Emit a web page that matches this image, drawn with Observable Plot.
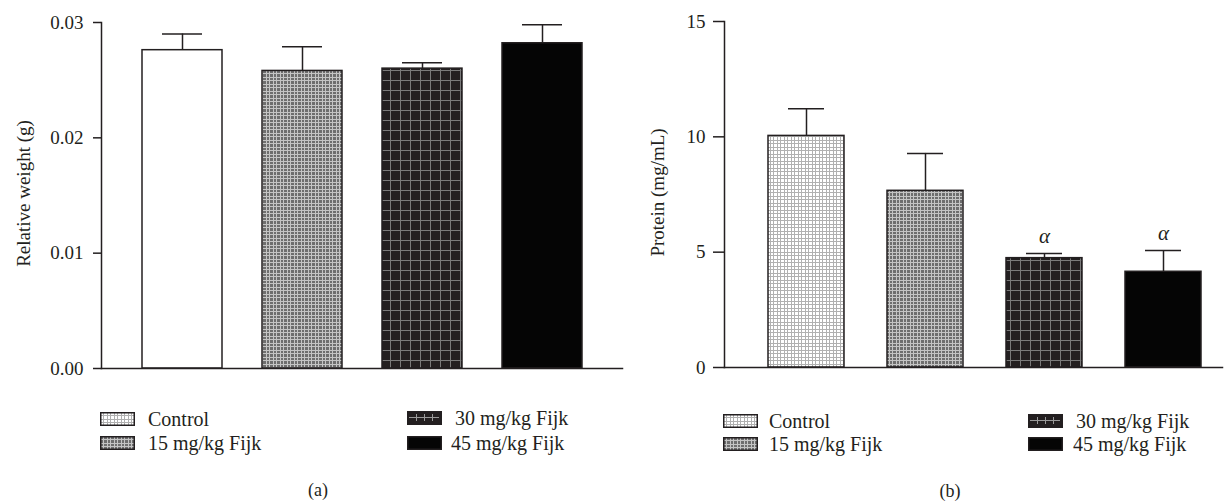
<!DOCTYPE html>
<html>
<head>
<meta charset="utf-8">
<script src="https://cdn.jsdelivr.net/npm/d3@7"></script>
<script src="https://cdn.jsdelivr.net/npm/@observablehq/plot@0.6"></script>
<style>
  html, body { margin: 0; padding: 0; background: #fff; }
  #root { position: relative; width: 1232px; height: 501px; overflow: hidden; background: #fff;
          font-family: "Liberation Serif", "DejaVu Serif", serif; color: #231f20; }
  .abs { position: absolute; white-space: nowrap; }
  .lg { font-size: 20px; line-height: 22px; }
  .cap { font-size: 18px; line-height: 20px; }
  svg text { font-family: "Liberation Serif", serif; }
</style>
</head>
<body>
<div id="root"></div>
<script>
// ---- data ----
const groups = ["Control", "15 mg/kg Fijk", "30 mg/kg Fijk", "45 mg/kg Fijk"];
const weightMean = [0.0276, 0.0258, 0.0260, 0.0282];
const weightSD = [0.0014, 0.0021, 0.0005, 0.0016];
const proteinMean = [10.04, 7.66, 4.74, 4.15];
const proteinSD = [1.18, 1.62, 0.20, 0.92];
const proteinSig = ["", "", "α", "α"];
const weightTicks = [0, 0.01, 0.02, 0.03];
const proteinTicks = [0, 5, 10, 15];

const INK = "#231f20";

function patternDefs(p) {
  return `
  <pattern id="${p}-ctrl" width="7" height="7" patternUnits="userSpaceOnUse">
    <rect width="7" height="7" fill="#fff"/>
    <path d="M0.5 0V7M3.5 0V7M0 0.5H7M0 3.5H7" stroke="#b0b0b0" stroke-width="1"/>
  </pattern>
  <pattern id="${p}-p15" width="7" height="7" patternUnits="userSpaceOnUse">
    <rect width="7" height="7" fill="#6e6e6e"/>
    <path d="M0.5 0V7M3.5 0V7M0 0.5H7M0 3.5H7" stroke="#c4c4c4" stroke-width="1"/>
  </pattern>
  <pattern id="${p}-p30" width="10" height="10" patternUnits="userSpaceOnUse">
    <rect width="10" height="10" fill="#231f20"/>
    <path d="M0.5 0V10M0 0.5H10" stroke="#7a7a7a" stroke-width="1"/>
  </pattern>
  <pattern id="${p}-sw30" width="34" height="13" patternUnits="userSpaceOnUse">
    <rect width="34" height="13" fill="#231f20"/>
    <path d="M2 6.5H32M9.5 3V10M17.5 3V10M25.5 3V10" stroke="#9a9a9a" stroke-width="1"/>
  </pattern>`;
}

function defsMark(p) {
  return () => {
    const d = document.createElementNS("http://www.w3.org/2000/svg", "defs");
    d.innerHTML = patternDefs(p);
    return d;
  };
}

function panel(o) {
  const data = groups.map((g, i) => ({group: g, mean: o.mean[i], top: o.mean[i] + o.sd[i], sig: o.sig ? o.sig[i] : ""}));
  return Plot.plot({
    width: o.width,
    height: 380,
    marginLeft: o.ml, marginRight: o.mr, marginTop: o.mt, marginBottom: o.mb,
    style: {fontFamily: "'Liberation Serif', serif", fontSize: "19px", color: INK, background: "transparent", overflow: "visible"},
    x: {domain: groups, paddingInner: o.padIn, paddingOuter: o.padOut, align: o.align, axis: null},
    y: {domain: [0, o.ticks[o.ticks.length - 1]], axis: null},
    color: {type: "identity"},
    marks: [
      defsMark(o.prefix),
      Plot.ruleX(data, {x: "group", y1: "mean", y2: "top", stroke: INK, strokeWidth: 1.5}),
      Plot.tickY(data, {x: "group", y: "top", insetLeft: 20, insetRight: 20, stroke: INK, strokeWidth: 1.5}),
      Plot.barY(data, {x: "group", y: "mean", fill: d => o.fills[d.group], stroke: INK, strokeWidth: 1.5}),
      Plot.frame({anchor: "left", stroke: INK, strokeWidth: 1.5}),
      Plot.frame({anchor: "bottom", stroke: INK, strokeWidth: 1.5}),
      Plot.axisY({ticks: o.ticks, tickFormat: o.fmt, tickSize: o.tickSize, tickPadding: o.tickPadding,
                  label: null, stroke: INK, strokeWidth: 1.5, fontSize: 19, fill: INK}),
      Plot.text([o.label], {frameAnchor: "left", textAnchor: "middle", lineAnchor: "middle", rotate: -90, dx: o.labelDx, dy: -2, fontSize: 19, fill: INK}),
      Plot.text(data.filter(d => d.sig), {x: "group", y: "top", text: "sig", dy: -17, fontStyle: "italic", fontSize: 21, fill: INK})
    ]
  });
}

const root = document.getElementById("root");

const chartA = panel({
  prefix: "a", mean: weightMean, sd: weightSD, ticks: weightTicks, fmt: ".2f",
  label: "Relative weight (g)", width: 630, ml: 101, mr: 8, mt: 22, mb: 12,
  padIn: 1/3, padOut: 0.3375, align: 0.5, tickSize: 8, tickPadding: 10, labelDx: -78,
  fills: {"Control": "#ffffff", "15 mg/kg Fijk": "url(#a-p15)", "30 mg/kg Fijk": "url(#a-p30)", "45 mg/kg Fijk": "#050505"}
});
chartA.style.position = "absolute"; chartA.style.left = "0px"; chartA.style.top = "0px";
root.appendChild(chartA);

const chartB = panel({
  prefix: "b", mean: proteinMean, sd: proteinSD, sig: proteinSig, ticks: proteinTicks, fmt: d => String(d),
  label: "Protein (mg/mL)", width: 602, ml: 94, mr: 10, mt: 21, mb: 13,
  padIn: 0.36, padOut: 0.26, align: 0.68, tickSize: 11, tickPadding: 8, labelDx: -67,
  fills: {"Control": "url(#b-ctrl)", "15 mg/kg Fijk": "url(#b-p15)", "30 mg/kg Fijk": "url(#b-p30)", "45 mg/kg Fijk": "#050505"}
});
chartB.style.position = "absolute"; chartB.style.left = "630px"; chartB.style.top = "0px";
root.appendChild(chartB);

// ---- legends ----
const swatchFill = {"Control": "url(#sw-ctrl)", "15 mg/kg Fijk": "url(#sw-p15)", "30 mg/kg Fijk": "url(#sw-sw30)", "45 mg/kg Fijk": "#050505"};
const defsSvg = document.createElementNS("http://www.w3.org/2000/svg", "svg");
defsSvg.setAttribute("width", 0); defsSvg.setAttribute("height", 0);
defsSvg.style.position = "absolute";
defsSvg.innerHTML = `<defs>${patternDefs("sw")}</defs>`;
root.appendChild(defsSvg);

function swatch(group, x, cy) {
  const s = document.createElementNS("http://www.w3.org/2000/svg", "svg");
  s.setAttribute("width", 35); s.setAttribute("height", 14);
  s.style.position = "absolute"; s.style.left = x + "px"; s.style.top = (cy - 7) + "px";
  s.innerHTML = `<rect x="0.75" y="0.75" width="33.5" height="12.5" fill="${swatchFill[group]}" stroke="${INK}" stroke-width="1.5"/>`;
  root.appendChild(s);
}
function label(text, x, cy, cls) {
  const d = document.createElement("div");
  d.className = "abs " + cls;
  d.textContent = text;
  d.style.left = x + "px";
  d.style.top = (cy - (cls === "lg" ? 11 : 10)) + "px";
  root.appendChild(d);
  return d;
}
function legend(layout) {
  layout.forEach(([gi, sx, tx, cy]) => {
    swatch(groups[gi], sx, cy);
    label(groups[gi], tx, cy, "lg");
  });
}
legend([[0, 100, 148, 419], [1, 100, 148, 443], [2, 407, 455, 418], [3, 407, 451, 443]]);
legend([[0, 723, 769, 421], [1, 723, 769, 444], [2, 1028, 1076, 421], [3, 1028, 1073, 444]]);

function caption(text, cx, cy) {
  const d = label(text, 0, cy, "cap");
  d.style.left = (cx - d.offsetWidth / 2) + "px";
}
caption("(a)", 318, 490);
caption("(b)", 950, 491);
</script>
</body>
</html>
